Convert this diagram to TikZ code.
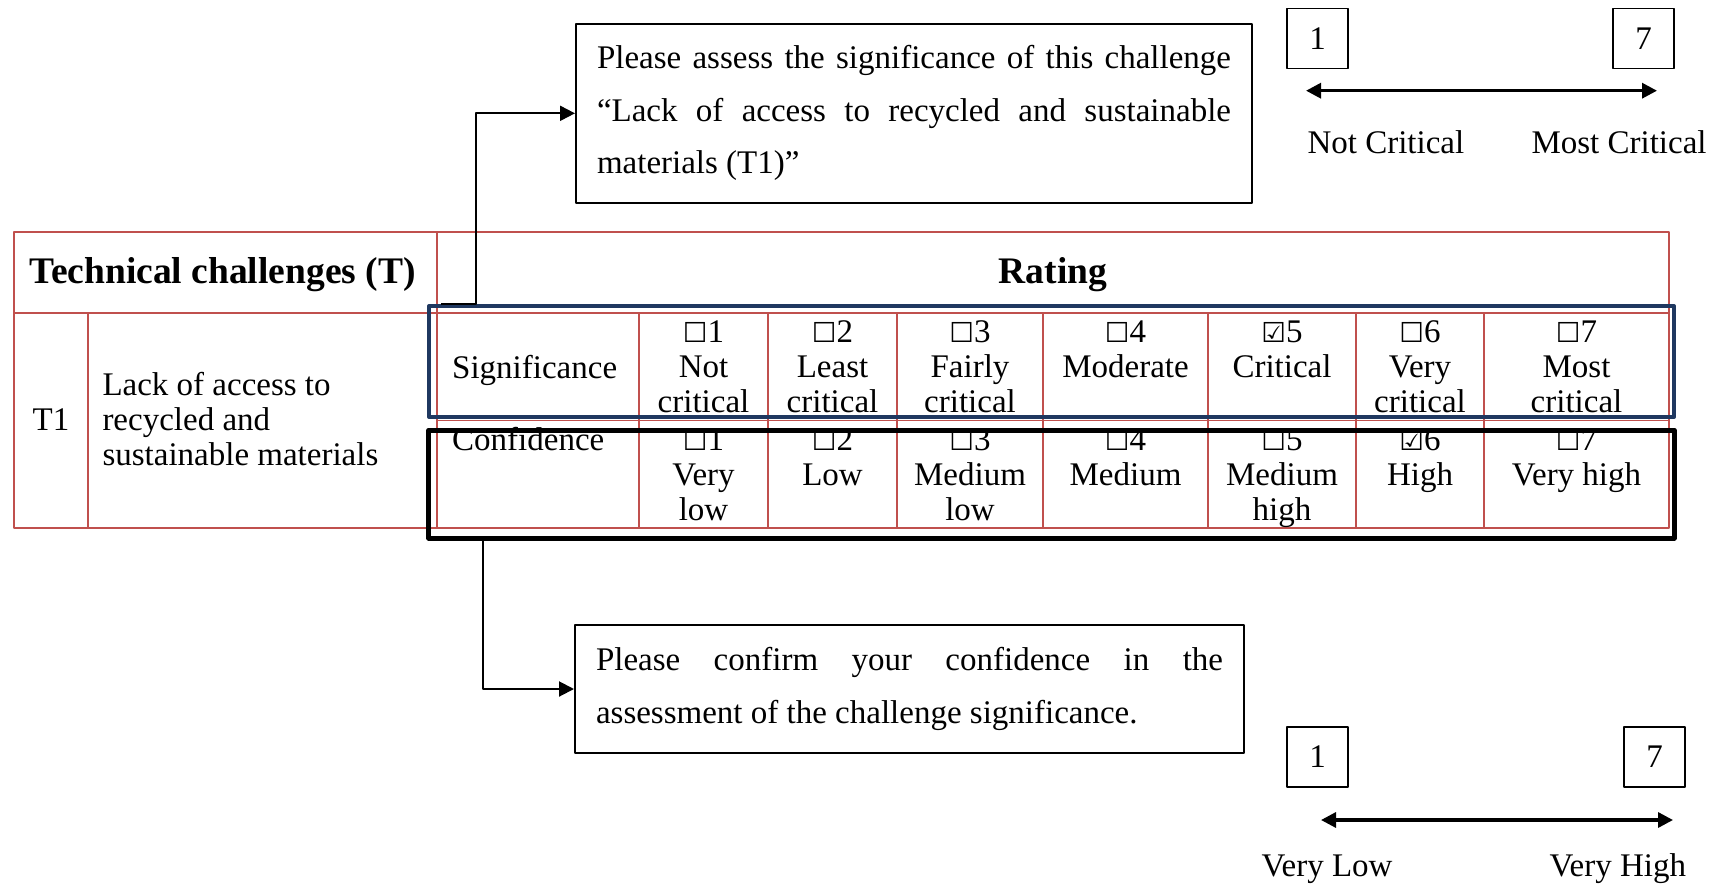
\documentclass[tikz,border=0pt]{standalone}
\usepackage{fontspec}
\setmainfont{Liberation Serif}
\newfontfamily\symfont{DejaVu Sans}
\usetikzlibrary{arrows.meta,calc}
\definecolor{tabred}{RGB}{192,80,77}
\definecolor{navy}{RGB}{31,56,96}
\newcommand{\cb}{{\symfont\bfseries\fontsize{11}{14}\selectfont ☐}}
\newcommand{\cbx}{{\symfont\bfseries\fontsize{11}{14}\selectfont ☑}}
\newcommand{\topstrut}{\rule{0pt}{10.5pt}}
\begin{document}
\begin{tikzpicture}[x=0.4pt,y=-0.4pt,font=\fontsize{13.2}{14}\selectfont,line join=round,
  every node/.style={inner sep=0pt},
  redrule/.style={tabred,line width=0.6pt},
  cell/.style={anchor=north,align=center},
  bold/.style={font=\bfseries\fontsize{15}{16}\selectfont},
  qbox/.style={draw,line width=0.8pt,align=justify,inner xsep=8.4pt,anchor=north west,font=\fontsize{13.2}{21}\selectfont},
  numbox/.style={draw,line width=0.7pt,minimum width=24.4pt,minimum height=24pt},
  link/.style={line width=0.8pt,-{Triangle[length=6pt,width=6pt]}},
  scalearrow/.style={line width=1.3pt,{Triangle[length=6pt,width=6pt]}-{Triangle[length=6pt,width=6pt]}}]
\useasboundingbox (0,0) rectangle (1724,885);
%	\draw[color=gray!50,dashed,step=100] (0,0) grid (1724,885);
% table
\draw[redrule] (14,232) rectangle (1669,528);
\draw[redrule] (14,313)--(1669,313) (437,420.7)--(1669,420.7);
\draw[redrule] (88,313)--(88,528) (437,232)--(437,528);
\foreach \xc in {639,768,897,1043,1208,1356,1484} \draw[redrule] (\xc,313)--(\xc,528);
\node[bold,anchor=base west] (head) at (29,283) {Technical challenges (T)};
\node[bold,anchor=base] (rating) at (1053,283) {Rating};
\node[anchor=base] (t1) at (51,430.7) {T1};
\node[anchor=north west,align=left] (t1desc) at (102,368.75) {\topstrut Lack of access to\\recycled and\\sustainable materials};
\node[anchor=base west] (sig) at (451.7,378) {Significance};
\node[anchor=base west] (conf) at (451.7,450) {Confidence};
\foreach \xc/\k/\txt in {703.5/1/{\cb1\\Not\\critical},832.5/2/{\cb2\\Least\\critical},970/3/{\cb3\\Fairly\\critical},1125.5/4/{\cb4\\Moderate},1282/5/{\cbx5\\Critical},1420/6/{\cb6\\Very\\critical},1576.5/7/{\cb7\\Most\\critical}}
  \node[cell] (s\k) at (\xc,315.75) {\topstrut\txt};
\foreach \xc/\k/\txt in {703.5/1/{\cb1\\Very\\low},832.5/2/{\cb2\\Low},970/3/{\cb3\\Medium\\low},1125.5/4/{\cb4\\Medium},1282/5/{\cb5\\Medium\\high},1420/6/{\cbx6\\High},1576.5/7/{\cb7\\Very high}}
  \node[cell] (c\k) at (\xc,423.75) {\topstrut\txt};
% frames round the two rows
\node[draw=navy,line width=1.6pt,minimum width=498pt,minimum height=44.4pt] (sigbox) at (1051.5,361.5) {};
\node[draw,line width=2pt,minimum width=498pt,minimum height=43.2pt] (confbox) at (1051.5,484) {};
% question boxes
\node[qbox,text width=253.6pt,minimum height=71.7pt] (askbox) at (575,22.7) {Please assess the significance of this challenge\linebreak “Lack of access to recycled and sustainable\linebreak materials (T1)”};
\node[qbox,text width=250.8pt,minimum height=51.2pt] (confirmbox) at (574,624) {Please confirm your confidence in the\linebreak assessment of the challenge significance.};
\draw[link] ($(sigbox.north west)+(14,0)$)--++(35,0) |- (askbox.west);
\draw[link] ($(confbox.south west)+(57,0)$) |- (confirmbox.west);
% scales
\node[numbox] (lo1) at (1317.5,38.4) {1};
\node[numbox] (hi1) at (1643.5,38.4) {7};
\coordinate (a1) at (1306,90.7); \coordinate (b1) at (1657,90.7);
\draw[scalearrow] (a1)--(b1);
\node[anchor=base west] (notcrit) at (1307,153.3) {Not Critical};
\node[anchor=base west] (mostcrit) at (1531,153.3) {Most Critical};
\node[numbox] (lo2) at (1317.5,757) {1};
\node[numbox] (hi2) at (1654.5,757) {7};
\coordinate (a2) at (1321,820); \coordinate (b2) at (1673,820);
\draw[scalearrow] (a2)--(b2);
\node[anchor=base west] (verylow) at (1261,876.7) {Very Low};
\node[anchor=base west] (veryhigh) at (1549,876.7) {Very High};
\end{tikzpicture}
\end{document}
